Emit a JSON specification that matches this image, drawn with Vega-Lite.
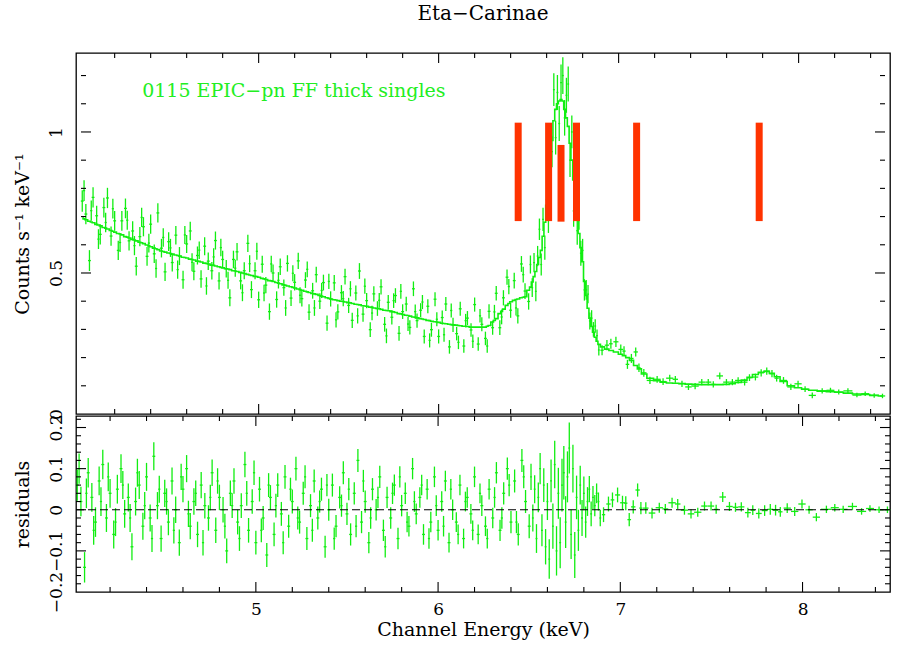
{
  "$schema": "https://vega.github.io/schema/vega-lite/v6.json",
  "padding": {"left": 12, "top": 3, "right": 5, "bottom": 0},
  "background": "white",
  "spacing": 2,
  "bounds": "flush",
  "config": {
    "view": {"stroke": "black", "strokeWidth": 1.3},
    "font": "DejaVu Serif",
    "axis": {"domain": false, "ticks": false, "grid": false, "labelFont": "DejaVu Serif", "labelFontSize": 17, "labelColor": "black", "titleFont": "DejaVu Serif", "titleFontSize": 19, "titleFontWeight": "normal", "titleColor": "black", "labelOverlap": false, "format": "~g"}
  },
  "datasets": {
    "spec": [
      {"e":4.02,"m":0.6945,"c":0.755,"ce":0.038,"r":0.06,"xe":0.008},
      {"e":4.04,"m":0.689,"c":0.709,"ce":0.036,"r":0.02,"xe":0.008},
      {"e":4.06,"m":0.6835,"c":0.544,"ce":0.037,"r":-0.14,"xe":0.008},
      {"e":4.08,"m":0.678,"c":0.768,"ce":0.036,"r":0.09,"xe":0.008},
      {"e":4.10,"m":0.6725,"c":0.703,"ce":0.035,"r":0.03,"xe":0.008},
      {"e":4.12,"m":0.667,"c":0.637,"ce":0.036,"r":-0.03,"xe":0.008},
      {"e":4.14,"m":0.6615,"c":0.732,"ce":0.035,"r":0.07,"xe":0.008},
      {"e":4.16,"m":0.656,"c":0.766,"ce":0.036,"r":0.11,"xe":0.008},
      {"e":4.18,"m":0.6505,"c":0.631,"ce":0.034,"r":-0.02,"xe":0.008},
      {"e":4.20,"m":0.645,"c":0.685,"ce":0.035,"r":0.04,"xe":0.008},
      {"e":4.22,"m":0.640,"c":0.580,"ce":0.034,"r":-0.06,"xe":0.008},
      {"e":4.24,"m":0.635,"c":0.685,"ce":0.035,"r":0.05,"xe":0.008},
      {"e":4.26,"m":0.629,"c":0.729,"ce":0.035,"r":0.10,"xe":0.008},
      {"e":4.28,"m":0.624,"c":0.614,"ce":0.034,"r":-0.01,"xe":0.008},
      {"e":4.30,"m":0.619,"c":0.649,"ce":0.034,"r":0.03,"xe":0.008},
      {"e":4.32,"m":0.614,"c":0.524,"ce":0.033,"r":-0.09,"xe":0.008},
      {"e":4.34,"m":0.609,"c":0.629,"ce":0.034,"r":0.02,"xe":0.008},
      {"e":4.36,"m":0.604,"c":0.664,"ce":0.034,"r":0.06,"xe":0.008},
      {"e":4.38,"m":0.599,"c":0.559,"ce":0.033,"r":-0.04,"xe":0.008},
      {"e":4.40,"m":0.593,"c":0.673,"ce":0.034,"r":0.08,"xe":0.008},
      {"e":4.42,"m":0.588,"c":0.568,"ce":0.033,"r":-0.02,"xe":0.008},
      {"e":4.44,"m":0.583,"c":0.713,"ce":0.034,"r":0.13,"xe":0.008},
      {"e":4.46,"m":0.578,"c":0.588,"ce":0.033,"r":0.01,"xe":0.008},
      {"e":4.48,"m":0.574,"c":0.504,"ce":0.032,"r":-0.07,"xe":0.008},
      {"e":4.50,"m":0.571,"c":0.611,"ce":0.033,"r":0.04,"xe":0.008},
      {"e":4.52,"m":0.567,"c":0.537,"ce":0.032,"r":-0.03,"xe":0.008},
      {"e":4.54,"m":0.564,"c":0.634,"ce":0.033,"r":0.07,"xe":0.008},
      {"e":4.56,"m":0.560,"c":0.560,"ce":0.032,"r":0.00,"xe":0.008},
      {"e":4.58,"m":0.556,"c":0.476,"ce":0.032,"r":-0.08,"xe":0.008},
      {"e":4.60,"m":0.553,"c":0.603,"ce":0.032,"r":0.05,"xe":0.008},
      {"e":4.62,"m":0.549,"c":0.649,"ce":0.033,"r":0.10,"xe":0.008},
      {"e":4.64,"m":0.546,"c":0.506,"ce":0.032,"r":-0.04,"xe":0.008},
      {"e":4.66,"m":0.542,"c":0.562,"ce":0.032,"r":0.02,"xe":0.008},
      {"e":4.68,"m":0.539,"c":0.479,"ce":0.031,"r":-0.06,"xe":0.008},
      {"e":4.70,"m":0.535,"c":0.595,"ce":0.032,"r":0.06,"xe":0.008},
      {"e":4.72,"m":0.532,"c":0.542,"ce":0.031,"r":0.01,"xe":0.008},
      {"e":4.74,"m":0.528,"c":0.508,"ce":0.031,"r":-0.02,"xe":0.008},
      {"e":4.76,"m":0.525,"c":0.615,"ce":0.032,"r":0.09,"xe":0.008},
      {"e":4.78,"m":0.522,"c":0.472,"ce":0.031,"r":-0.05,"xe":0.008},
      {"e":4.80,"m":0.518,"c":0.548,"ce":0.031,"r":0.03,"xe":0.008},
      {"e":4.82,"m":0.515,"c":0.515,"ce":0.031,"r":0.00,"xe":0.008},
      {"e":4.84,"m":0.512,"c":0.412,"ce":0.030,"r":-0.10,"xe":0.008},
      {"e":4.86,"m":0.508,"c":0.548,"ce":0.031,"r":0.04,"xe":0.008},
      {"e":4.88,"m":0.505,"c":0.575,"ce":0.031,"r":0.07,"xe":0.008},
      {"e":4.90,"m":0.502,"c":0.472,"ce":0.030,"r":-0.03,"xe":0.008},
      {"e":4.92,"m":0.498,"c":0.508,"ce":0.030,"r":0.01,"xe":0.008},
      {"e":4.94,"m":0.495,"c":0.605,"ce":0.031,"r":0.11,"xe":0.008},
      {"e":4.96,"m":0.491,"c":0.441,"ce":0.030,"r":-0.05,"xe":0.008},
      {"e":4.98,"m":0.488,"c":0.508,"ce":0.030,"r":0.02,"xe":0.008},
      {"e":5.00,"m":0.485,"c":0.405,"ce":0.029,"r":-0.08,"xe":0.008},
      {"e":5.02,"m":0.481,"c":0.531,"ce":0.030,"r":0.05,"xe":0.008},
      {"e":5.04,"m":0.477,"c":0.457,"ce":0.029,"r":-0.02,"xe":0.008},
      {"e":5.06,"m":0.473,"c":0.363,"ce":0.029,"r":-0.11,"xe":0.008},
      {"e":5.08,"m":0.470,"c":0.500,"ce":0.030,"r":0.03,"xe":0.008},
      {"e":5.10,"m":0.466,"c":0.406,"ce":0.029,"r":-0.06,"xe":0.008},
      {"e":5.12,"m":0.462,"c":0.522,"ce":0.029,"r":0.06,"xe":0.008},
      {"e":5.14,"m":0.458,"c":0.448,"ce":0.029,"r":-0.01,"xe":0.008},
      {"e":5.16,"m":0.454,"c":0.534,"ce":0.029,"r":0.08,"xe":0.008},
      {"e":5.18,"m":0.451,"c":0.411,"ce":0.028,"r":-0.04,"xe":0.008},
      {"e":5.20,"m":0.447,"c":0.467,"ce":0.029,"r":0.02,"xe":0.008},
      {"e":5.22,"m":0.443,"c":0.543,"ce":0.029,"r":0.10,"xe":0.008},
      {"e":5.24,"m":0.439,"c":0.409,"ce":0.028,"r":-0.03,"xe":0.008},
      {"e":5.26,"m":0.435,"c":0.475,"ce":0.028,"r":0.04,"xe":0.008},
      {"e":5.28,"m":0.431,"c":0.361,"ce":0.028,"r":-0.07,"xe":0.008},
      {"e":5.30,"m":0.427,"c":0.437,"ce":0.028,"r":0.01,"xe":0.008},
      {"e":5.32,"m":0.424,"c":0.494,"ce":0.028,"r":0.07,"xe":0.008},
      {"e":5.34,"m":0.420,"c":0.400,"ce":0.028,"r":-0.02,"xe":0.008},
      {"e":5.36,"m":0.416,"c":0.466,"ce":0.028,"r":0.05,"xe":0.008},
      {"e":5.38,"m":0.412,"c":0.322,"ce":0.027,"r":-0.09,"xe":0.008},
      {"e":5.40,"m":0.408,"c":0.408,"ce":0.027,"r":0.00,"xe":0.008},
      {"e":5.42,"m":0.405,"c":0.465,"ce":0.028,"r":0.06,"xe":0.008},
      {"e":5.44,"m":0.402,"c":0.362,"ce":0.027,"r":-0.04,"xe":0.008},
      {"e":5.46,"m":0.400,"c":0.430,"ce":0.027,"r":0.03,"xe":0.008},
      {"e":5.48,"m":0.397,"c":0.487,"ce":0.028,"r":0.09,"xe":0.008},
      {"e":5.50,"m":0.395,"c":0.385,"ce":0.027,"r":-0.01,"xe":0.008},
      {"e":5.52,"m":0.392,"c":0.332,"ce":0.027,"r":-0.06,"xe":0.008},
      {"e":5.54,"m":0.389,"c":0.429,"ce":0.027,"r":0.04,"xe":0.008},
      {"e":5.56,"m":0.387,"c":0.507,"ce":0.028,"r":0.12,"xe":0.008},
      {"e":5.58,"m":0.384,"c":0.354,"ce":0.027,"r":-0.03,"xe":0.008},
      {"e":5.60,"m":0.382,"c":0.402,"ce":0.027,"r":0.02,"xe":0.008},
      {"e":5.62,"m":0.379,"c":0.299,"ce":0.026,"r":-0.08,"xe":0.008},
      {"e":5.64,"m":0.376,"c":0.426,"ce":0.027,"r":0.05,"xe":0.008},
      {"e":5.66,"m":0.374,"c":0.374,"ce":0.026,"r":0.00,"xe":0.008},
      {"e":5.68,"m":0.371,"c":0.451,"ce":0.027,"r":0.08,"xe":0.008},
      {"e":5.70,"m":0.368,"c":0.318,"ce":0.026,"r":-0.05,"xe":0.008},
      {"e":5.72,"m":0.366,"c":0.396,"ce":0.026,"r":0.03,"xe":0.008},
      {"e":5.74,"m":0.363,"c":0.343,"ce":0.026,"r":-0.02,"xe":0.008},
      {"e":5.76,"m":0.360,"c":0.420,"ce":0.026,"r":0.06,"xe":0.008},
      {"e":5.78,"m":0.356,"c":0.286,"ce":0.026,"r":-0.07,"xe":0.008},
      {"e":5.80,"m":0.353,"c":0.363,"ce":0.026,"r":0.01,"xe":0.008},
      {"e":5.82,"m":0.350,"c":0.390,"ce":0.026,"r":0.04,"xe":0.008},
      {"e":5.84,"m":0.347,"c":0.307,"ce":0.025,"r":-0.04,"xe":0.008},
      {"e":5.86,"m":0.344,"c":0.444,"ce":0.026,"r":0.10,"xe":0.008},
      {"e":5.88,"m":0.341,"c":0.331,"ce":0.025,"r":-0.01,"xe":0.008},
      {"e":5.90,"m":0.338,"c":0.368,"ce":0.025,"r":0.03,"xe":0.008},
      {"e":5.92,"m":0.335,"c":0.275,"ce":0.025,"r":-0.06,"xe":0.008},
      {"e":5.94,"m":0.332,"c":0.382,"ce":0.025,"r":0.05,"xe":0.008},
      {"e":5.96,"m":0.329,"c":0.299,"ce":0.025,"r":-0.03,"xe":0.008},
      {"e":5.98,"m":0.327,"c":0.407,"ce":0.025,"r":0.08,"xe":0.008},
      {"e":6.00,"m":0.325,"c":0.275,"ce":0.025,"r":-0.05,"xe":0.008},
      {"e":6.02,"m":0.322,"c":0.342,"ce":0.025,"r":0.02,"xe":0.008},
      {"e":6.04,"m":0.320,"c":0.390,"ce":0.025,"r":0.07,"xe":0.008},
      {"e":6.06,"m":0.318,"c":0.238,"ce":0.024,"r":-0.08,"xe":0.008},
      {"e":6.08,"m":0.316,"c":0.316,"ce":0.025,"r":0.00,"xe":0.008},
      {"e":6.10,"m":0.315,"c":0.285,"ce":0.024,"r":-0.03,"xe":0.008},
      {"e":6.12,"m":0.313,"c":0.373,"ce":0.025,"r":0.06,"xe":0.008},
      {"e":6.14,"m":0.311,"c":0.241,"ce":0.024,"r":-0.07,"xe":0.008},
      {"e":6.16,"m":0.310,"c":0.340,"ce":0.025,"r":0.03,"xe":0.008},
      {"e":6.18,"m":0.308,"c":0.298,"ce":0.024,"r":-0.01,"xe":0.008},
      {"e":6.20,"m":0.308,"c":0.388,"ce":0.025,"r":0.08,"xe":0.008},
      {"e":6.22,"m":0.308,"c":0.248,"ce":0.024,"r":-0.06,"xe":0.008},
      {"e":6.24,"m":0.308,"c":0.318,"ce":0.025,"r":0.01,"xe":0.008},
      {"e":6.26,"m":0.308,"c":0.268,"ce":0.024,"r":-0.04,"xe":0.008},
      {"e":6.28,"m":0.314,"c":0.364,"ce":0.025,"r":0.05,"xe":0.008},
      {"e":6.30,"m":0.326,"c":0.306,"ce":0.025,"r":-0.02,"xe":0.008},
      {"e":6.32,"m":0.338,"c":0.428,"ce":0.026,"r":0.09,"xe":0.008},
      {"e":6.34,"m":0.356,"c":0.306,"ce":0.026,"r":-0.05,"xe":0.008},
      {"e":6.36,"m":0.372,"c":0.412,"ce":0.027,"r":0.04,"xe":0.008},
      {"e":6.38,"m":0.385,"c":0.485,"ce":0.027,"r":0.10,"xe":0.008},
      {"e":6.40,"m":0.398,"c":0.368,"ce":0.027,"r":-0.03,"xe":0.008},
      {"e":6.42,"m":0.403,"c":0.473,"ce":0.028,"r":0.07,"xe":0.008},
      {"e":6.44,"m":0.408,"c":0.348,"ce":0.027,"r":-0.06,"xe":0.008},
      {"e":6.46,"m":0.412,"c":0.532,"ce":0.028,"r":0.12,"xe":0.008},
      {"e":6.48,"m":0.416,"c":0.436,"ce":0.028,"r":0.02,"xe":0.008},
      {"e":6.50,"m":0.439,"c":0.399,"ce":0.029,"r":-0.04,"xe":0.008},
      {"e":4.03,"m":0.692,"c":0.792,"ce":0.037,"r":0.10,"xe":0.006},
      {"e":4.07,"m":0.681,"c":0.721,"ce":0.036,"r":0.04,"xe":0.006},
      {"e":4.11,"m":0.670,"c":0.620,"ce":0.035,"r":-0.05,"xe":0.006},
      {"e":4.15,"m":0.659,"c":0.679,"ce":0.035,"r":0.02,"xe":0.006},
      {"e":4.19,"m":0.648,"c":0.728,"ce":0.035,"r":0.08,"xe":0.006},
      {"e":4.23,"m":0.638,"c":0.608,"ce":0.034,"r":-0.03,"xe":0.006},
      {"e":4.27,"m":0.627,"c":0.687,"ce":0.034,"r":0.06,"xe":0.006},
      {"e":4.31,"m":0.617,"c":0.597,"ce":0.034,"r":-0.02,"xe":0.006},
      {"e":4.35,"m":0.607,"c":0.697,"ce":0.034,"r":0.09,"xe":0.006},
      {"e":4.39,"m":0.596,"c":0.606,"ce":0.033,"r":0.01,"xe":0.006},
      {"e":4.43,"m":0.586,"c":0.516,"ce":0.033,"r":-0.07,"xe":0.006},
      {"e":4.47,"m":0.576,"c":0.626,"ce":0.033,"r":0.05,"xe":0.006},
      {"e":4.51,"m":0.569,"c":0.589,"ce":0.032,"r":0.02,"xe":0.006},
      {"e":4.55,"m":0.562,"c":0.512,"ce":0.032,"r":-0.05,"xe":0.006},
      {"e":4.59,"m":0.555,"c":0.635,"ce":0.032,"r":0.08,"xe":0.006},
      {"e":4.63,"m":0.548,"c":0.538,"ce":0.032,"r":-0.01,"xe":0.006},
      {"e":4.67,"m":0.541,"c":0.581,"ce":0.031,"r":0.04,"xe":0.006},
      {"e":4.71,"m":0.534,"c":0.454,"ce":0.031,"r":-0.08,"xe":0.006},
      {"e":4.75,"m":0.527,"c":0.557,"ce":0.031,"r":0.03,"xe":0.006},
      {"e":4.79,"m":0.520,"c":0.590,"ce":0.031,"r":0.07,"xe":0.006},
      {"e":4.83,"m":0.514,"c":0.474,"ce":0.030,"r":-0.04,"xe":0.006},
      {"e":4.87,"m":0.507,"c":0.517,"ce":0.030,"r":0.01,"xe":0.006},
      {"e":4.91,"m":0.500,"c":0.430,"ce":0.030,"r":-0.07,"xe":0.006},
      {"e":4.95,"m":0.493,"c":0.533,"ce":0.030,"r":0.04,"xe":0.006},
      {"e":4.99,"m":0.487,"c":0.577,"ce":0.030,"r":0.09,"xe":0.006},
      {"e":5.03,"m":0.479,"c":0.429,"ce":0.029,"r":-0.05,"xe":0.006},
      {"e":5.07,"m":0.472,"c":0.532,"ce":0.029,"r":0.06,"xe":0.006},
      {"e":5.11,"m":0.464,"c":0.474,"ce":0.029,"r":0.01,"xe":0.006},
      {"e":5.15,"m":0.456,"c":0.376,"ce":0.028,"r":-0.08,"xe":0.006},
      {"e":5.19,"m":0.449,"c":0.499,"ce":0.028,"r":0.05,"xe":0.006},
      {"e":5.23,"m":0.441,"c":0.421,"ce":0.028,"r":-0.02,"xe":0.006},
      {"e":5.27,"m":0.433,"c":0.513,"ce":0.028,"r":0.08,"xe":0.006},
      {"e":5.31,"m":0.426,"c":0.376,"ce":0.028,"r":-0.05,"xe":0.006},
      {"e":5.35,"m":0.418,"c":0.438,"ce":0.027,"r":0.02,"xe":0.006},
      {"e":5.39,"m":0.410,"c":0.470,"ce":0.027,"r":0.06,"xe":0.006},
      {"e":5.43,"m":0.404,"c":0.334,"ce":0.027,"r":-0.07,"xe":0.006},
      {"e":5.47,"m":0.399,"c":0.409,"ce":0.027,"r":0.01,"xe":0.006},
      {"e":5.51,"m":0.394,"c":0.444,"ce":0.027,"r":0.05,"xe":0.006},
      {"e":5.55,"m":0.388,"c":0.348,"ce":0.027,"r":-0.04,"xe":0.006},
      {"e":5.59,"m":0.383,"c":0.453,"ce":0.027,"r":0.07,"xe":0.006},
      {"e":5.63,"m":0.378,"c":0.358,"ce":0.026,"r":-0.02,"xe":0.006},
      {"e":5.67,"m":0.373,"c":0.403,"ce":0.026,"r":0.03,"xe":0.006},
      {"e":5.71,"m":0.367,"c":0.277,"ce":0.026,"r":-0.09,"xe":0.006},
      {"e":5.75,"m":0.362,"c":0.402,"ce":0.026,"r":0.04,"xe":0.006},
      {"e":5.79,"m":0.355,"c":0.435,"ce":0.026,"r":0.08,"xe":0.006},
      {"e":5.83,"m":0.349,"c":0.319,"ce":0.025,"r":-0.03,"xe":0.006},
      {"e":5.87,"m":0.343,"c":0.363,"ce":0.025,"r":0.02,"xe":0.006},
      {"e":5.91,"m":0.337,"c":0.397,"ce":0.025,"r":0.06,"xe":0.006},
      {"e":5.95,"m":0.331,"c":0.261,"ce":0.025,"r":-0.07,"xe":0.006},
      {"e":5.99,"m":0.326,"c":0.336,"ce":0.025,"r":0.01,"xe":0.006},
      {"e":6.03,"m":0.321,"c":0.281,"ce":0.025,"r":-0.04,"xe":0.006},
      {"e":6.07,"m":0.317,"c":0.367,"ce":0.025,"r":0.05,"xe":0.006},
      {"e":6.11,"m":0.314,"c":0.254,"ce":0.024,"r":-0.06,"xe":0.006},
      {"e":6.15,"m":0.311,"c":0.331,"ce":0.024,"r":0.02,"xe":0.006},
      {"e":6.19,"m":0.308,"c":0.258,"ce":0.024,"r":-0.05,"xe":0.006},
      {"e":6.23,"m":0.308,"c":0.348,"ce":0.024,"r":0.04,"xe":0.006},
      {"e":6.27,"m":0.311,"c":0.241,"ce":0.024,"r":-0.07,"xe":0.006},
      {"e":6.31,"m":0.332,"c":0.362,"ce":0.025,"r":0.03,"xe":0.006},
      {"e":6.35,"m":0.364,"c":0.344,"ce":0.026,"r":-0.02,"xe":0.006},
      {"e":6.39,"m":0.392,"c":0.452,"ce":0.027,"r":0.06,"xe":0.006},
      {"e":6.43,"m":0.406,"c":0.376,"ce":0.027,"r":-0.03,"xe":0.006},
      {"e":6.47,"m":0.414,"c":0.494,"ce":0.028,"r":0.08,"xe":0.006},
      {"e":6.51,"m":0.450,"c":0.530,"ce":0.032,"r":0.08,"xe":0.005},
      {"e":6.52,"m":0.468,"c":0.448,"ce":0.033,"r":-0.02,"xe":0.005},
      {"e":6.53,"m":0.487,"c":0.537,"ce":0.034,"r":0.05,"xe":0.005},
      {"e":6.54,"m":0.505,"c":0.435,"ce":0.035,"r":-0.07,"xe":0.005},
      {"e":6.55,"m":0.530,"c":0.560,"ce":0.036,"r":0.03,"xe":0.005},
      {"e":6.56,"m":0.555,"c":0.655,"ce":0.038,"r":0.10,"xe":0.005},
      {"e":6.57,"m":0.580,"c":0.530,"ce":0.039,"r":-0.05,"xe":0.005},
      {"e":6.58,"m":0.630,"c":0.690,"ce":0.041,"r":0.06,"xe":0.005},
      {"e":6.59,"m":0.680,"c":0.590,"ce":0.043,"r":-0.09,"xe":0.005},
      {"e":6.60,"m":0.740,"c":0.760,"ce":0.045,"r":0.02,"xe":0.005},
      {"e":6.61,"m":0.810,"c":0.690,"ce":0.048,"r":-0.12,"xe":0.005},
      {"e":6.62,"m":0.890,"c":0.960,"ce":0.052,"r":0.07,"xe":0.005},
      {"e":6.63,"m":0.970,"c":0.930,"ce":0.055,"r":-0.04,"xe":0.005},
      {"e":6.64,"m":1.040,"c":1.150,"ce":0.058,"r":0.11,"xe":0.005},
      {"e":6.65,"m":1.080,"c":0.980,"ce":0.060,"r":-0.10,"xe":0.005},
      {"e":6.66,"m":1.100,"c":1.140,"ce":0.062,"r":0.04,"xe":0.005},
      {"e":6.67,"m":1.110,"c":1.030,"ce":0.062,"r":-0.08,"xe":0.005},
      {"e":6.68,"m":1.115,"c":1.175,"ce":0.064,"r":0.06,"xe":0.005},
      {"e":6.69,"m":1.110,"c":1.200,"ce":0.065,"r":0.09,"xe":0.005},
      {"e":6.70,"m":1.080,"c":1.050,"ce":0.063,"r":-0.03,"xe":0.005},
      {"e":6.71,"m":1.050,"c":1.130,"ce":0.062,"r":0.08,"xe":0.005},
      {"e":6.72,"m":1.020,"c":1.170,"ce":0.062,"r":0.15,"xe":0.005},
      {"e":6.73,"m":0.960,"c":0.900,"ce":0.060,"r":-0.06,"xe":0.005},
      {"e":6.74,"m":0.900,"c":1.000,"ce":0.058,"r":0.10,"xe":0.005},
      {"e":6.75,"m":0.830,"c":0.720,"ce":0.056,"r":-0.11,"xe":0.005},
      {"e":6.76,"m":0.760,"c":0.790,"ce":0.053,"r":0.03,"xe":0.005},
      {"e":6.77,"m":0.700,"c":0.650,"ce":0.050,"r":-0.05,"xe":0.005},
      {"e":6.78,"m":0.640,"c":0.700,"ce":0.047,"r":0.06,"xe":0.005},
      {"e":6.79,"m":0.590,"c":0.570,"ce":0.044,"r":-0.02,"xe":0.005},
      {"e":6.80,"m":0.540,"c":0.580,"ce":0.041,"r":0.04,"xe":0.005},
      {"e":6.81,"m":0.470,"c":0.440,"ce":0.038,"r":-0.03,"xe":0.005},
      {"e":6.82,"m":0.420,"c":0.440,"ce":0.035,"r":0.02,"xe":0.005},
      {"e":6.83,"m":0.375,"c":0.425,"ce":0.032,"r":0.05,"xe":0.005},
      {"e":6.84,"m":0.340,"c":0.330,"ce":0.030,"r":-0.01,"xe":0.005},
      {"e":6.85,"m":0.310,"c":0.340,"ce":0.028,"r":0.03,"xe":0.005},
      {"e":6.86,"m":0.290,"c":0.300,"ce":0.026,"r":0.01,"xe":0.005},
      {"e":6.87,"m":0.272,"c":0.312,"ce":0.024,"r":0.04,"xe":0.005},
      {"e":6.88,"m":0.258,"c":0.278,"ce":0.022,"r":0.02,"xe":0.005},
      {"e":6.89,"m":0.247,"c":0.227,"ce":0.020,"r":-0.02,"xe":0.005},
      {"e":6.908,"m":0.238,"c":0.226,"ce":0.018,"r":-0.012,"xe":0.009},
      {"e":6.935,"m":0.230,"c":0.244,"ce":0.018,"r":0.014,"xe":0.012},
      {"e":6.957,"m":0.225,"c":0.249,"ce":0.018,"r":0.024,"xe":0.010},
      {"e":6.985,"m":0.220,"c":0.256,"ce":0.018,"r":0.036,"xe":0.014},
      {"e":7.012,"m":0.212,"c":0.229,"ce":0.017,"r":0.017,"xe":0.013},
      {"e":7.030,"m":0.207,"c":0.223,"ce":0.017,"r":0.016,"xe":0.009},
      {"e":7.049,"m":0.200,"c":0.176,"ce":0.016,"r":-0.024,"xe":0.010},
      {"e":7.071,"m":0.190,"c":0.197,"ce":0.016,"r":0.007,"xe":0.012},
      {"e":7.095,"m":0.172,"c":0.220,"ce":0.016,"r":0.048,"xe":0.012},
      {"e":7.113,"m":0.160,"c":0.164,"ce":0.015,"r":0.004,"xe":0.009},
      {"e":7.140,"m":0.142,"c":0.146,"ce":0.014,"r":0.004,"xe":0.015},
      {"e":7.174,"m":0.127,"c":0.119,"ce":0.013,"r":-0.008,"xe":0.018},
      {"e":7.214,"m":0.118,"c":0.123,"ce":0.012,"r":0.005,"xe":0.020},
      {"e":7.247,"m":0.113,"c":0.115,"ce":0.012,"r":0.002,"xe":0.016},
      {"e":7.284,"m":0.110,"c":0.127,"ce":0.012,"r":0.017,"xe":0.020},
      {"e":7.315,"m":0.109,"c":0.123,"ce":0.012,"r":0.014,"xe":0.015},
      {"e":7.352,"m":0.108,"c":0.107,"ce":0.011,"r":-0.001,"xe":0.020},
      {"e":7.388,"m":0.106,"c":0.096,"ce":0.011,"r":-0.010,"xe":0.018},
      {"e":7.425,"m":0.105,"c":0.099,"ce":0.011,"r":-0.006,"xe":0.020},
      {"e":7.462,"m":0.104,"c":0.113,"ce":0.011,"r":0.009,"xe":0.018},
      {"e":7.498,"m":0.104,"c":0.113,"ce":0.011,"r":0.009,"xe":0.017},
      {"e":7.526,"m":0.104,"c":0.105,"ce":0.011,"r":0.001,"xe":0.012},
      {"e":7.562,"m":0.104,"c":0.135,"ce":0.012,"r":0.031,"xe":0.018},
      {"e":7.599,"m":0.105,"c":0.113,"ce":0.011,"r":0.008,"xe":0.018},
      {"e":7.632,"m":0.107,"c":0.113,"ce":0.011,"r":0.006,"xe":0.015},
      {"e":7.664,"m":0.112,"c":0.119,"ce":0.011,"r":0.007,"xe":0.017},
      {"e":7.700,"m":0.120,"c":0.113,"ce":0.012,"r":-0.007,"xe":0.016},
      {"e":7.727,"m":0.130,"c":0.129,"ce":0.012,"r":-0.001,"xe":0.012},
      {"e":7.760,"m":0.140,"c":0.131,"ce":0.012,"r":-0.009,"xe":0.016},
      {"e":7.792,"m":0.148,"c":0.146,"ce":0.013,"r":-0.002,"xe":0.016},
      {"e":7.823,"m":0.151,"c":0.152,"ce":0.013,"r":0.001,"xe":0.016},
      {"e":7.852,"m":0.144,"c":0.143,"ce":0.013,"r":-0.001,"xe":0.014},
      {"e":7.878,"m":0.132,"c":0.127,"ce":0.012,"r":-0.005,"xe":0.012},
      {"e":7.916,"m":0.115,"c":0.119,"ce":0.012,"r":0.004,"xe":0.020},
      {"e":7.957,"m":0.100,"c":0.096,"ce":0.011,"r":-0.004,"xe":0.020},
      {"e":7.997,"m":0.093,"c":0.107,"ce":0.011,"r":0.014,"xe":0.020},
      {"e":8.036,"m":0.088,"c":0.088,"ce":0.010,"r":0.000,"xe":0.020},
      {"e":8.076,"m":0.084,"c":0.066,"ce":0.010,"r":-0.018,"xe":0.020},
      {"e":8.131,"m":0.081,"c":0.082,"ce":0.009,"r":0.001,"xe":0.030},
      {"e":8.177,"m":0.079,"c":0.084,"ce":0.009,"r":0.005,"xe":0.022},
      {"e":8.223,"m":0.077,"c":0.078,"ce":0.009,"r":0.001,"xe":0.024},
      {"e":8.274,"m":0.074,"c":0.082,"ce":0.009,"r":0.008,"xe":0.025},
      {"e":8.324,"m":0.071,"c":0.067,"ce":0.008,"r":-0.004,"xe":0.025},
      {"e":8.370,"m":0.069,"c":0.072,"ce":0.008,"r":0.003,"xe":0.022},
      {"e":8.420,"m":0.066,"c":0.066,"ce":0.008,"r":0.000,"xe":0.025},
      {"e":8.466,"m":0.064,"c":0.064,"ce":0.008,"r":0.000,"xe":0.015}
    ],
    "lines": [
      {"e":6.442,"top":1.033,"bot":0.684},
      {"e":6.611,"top":1.033,"bot":0.684},
      {"e":6.680,"top":0.954,"bot":0.682},
      {"e":6.766,"top":1.033,"bot":0.684},
      {"e":7.100,"top":1.033,"bot":0.684},
      {"e":7.781,"top":1.033,"bot":0.684}
    ],
    "note": [
      {"e":4.353,"c":1.144,"label":"0115 EPIC−pn FF thick singles"}
    ],
    "zero": [
      {"e":4.013,"e2":8.48,"r":0}
    ],
    "xmaj": [{"v":5},{"v":6},{"v":7},{"v":8}],
    "xmin": [{"v":4.2},{"v":4.4},{"v":4.6},{"v":4.8},{"v":5.2},{"v":5.4},{"v":5.6},{"v":5.8},{"v":6.2},{"v":6.4},{"v":6.6},{"v":6.8},{"v":7.2},{"v":7.4},{"v":7.6},{"v":7.8},{"v":8.2},{"v":8.4}],
    "ymajA": [{"v":0.5},{"v":1}],
    "yminA": [{"v":0.1},{"v":0.2},{"v":0.3},{"v":0.4},{"v":0.6},{"v":0.7},{"v":0.8},{"v":0.9},{"v":1.1},{"v":1.2}],
    "ymajB": [{"v":-0.1},{"v":0},{"v":0.1},{"v":0.2}],
    "yminB": [{"v":-0.18},{"v":-0.16},{"v":-0.14},{"v":-0.12},{"v":-0.08},{"v":-0.06},{"v":-0.04},{"v":-0.02},{"v":0.02},{"v":0.04},{"v":0.06},{"v":0.08},{"v":0.12},{"v":0.14},{"v":0.16},{"v":0.18},{"v":0.22}]
  },
  "vconcat": [
    {
      "width": 814,
      "height": 361,
      "title": {"text": "Eta−Carinae", "font": "DejaVu Serif", "fontSize": 20, "fontWeight": "normal", "anchor": "middle", "frame": "group", "offset": 28, "color": "black"},
      "resolve": {"axis": {"x": "independent", "y": "independent"}},
      "layer": [
        {
          "data": {"name": "spec"},
          "mark": {"type": "line", "interpolate": "step", "color": "#11ee11", "strokeWidth": 1.6},
          "encoding": {
            "x": {"field": "e", "type": "quantitative", "scale": {"domain": [4.013, 8.48], "nice": false, "zero": false}, "axis": null},
            "y": {"field": "m", "type": "quantitative", "scale": {"domain": [0, 1.28], "nice": false, "zero": false},
              "axis": {"orient": "left", "title": "Counts s⁻¹ keV⁻¹", "titlePadding": 15, "values": [0, 0.5, 1],
                "labelAngle": -90, "labelAlign": "center", "labelBaseline": "middle", "labelPadding": 20}}
          }
        },
        {
          "data": {"name": "spec"},
          "mark": {"type": "errorbar", "rule": {"color": "#11ee11", "strokeWidth": 1.3}},
          "encoding": {
            "x": {"field": "e", "type": "quantitative", "axis": null},
            "y": {"field": "c", "type": "quantitative", "axis": null},
            "yError": {"field": "ce"}
          }
        },
        {
          "data": {"name": "spec"},
          "mark": {"type": "errorbar", "rule": {"color": "#11ee11", "strokeWidth": 1.3}},
          "encoding": {
            "x": {"field": "e", "type": "quantitative", "axis": null},
            "xError": {"field": "xe"},
            "y": {"field": "c", "type": "quantitative", "axis": null}
          }
        },
        {
          "data": {"name": "lines"},
          "mark": {"type": "bar", "color": "#ff3300", "size": 7},
          "encoding": {
            "x": {"field": "e", "type": "quantitative", "axis": null},
            "y": {"field": "top", "type": "quantitative", "axis": null},
            "y2": {"field": "bot"}
          }
        },
        {
          "data": {"name": "note"},
          "mark": {"type": "text", "align": "left", "baseline": "middle", "color": "#22ee22", "font": "DejaVu Serif", "fontSize": 19},
          "encoding": {
            "x": {"field": "e", "type": "quantitative", "axis": null},
            "y": {"field": "c", "type": "quantitative", "axis": null},
            "text": {"field": "label"}
          }
        },
        {"data": {"name": "xmaj"}, "mark": {"type": "rule", "color": "black", "strokeWidth": 1.1, "y2Offset": -10},
         "encoding": {"x": {"field": "v", "type": "quantitative", "axis": null}, "y": {"datum": 0, "axis": null}, "y2": {"datum": 0}}},
        {"data": {"name": "xmaj"}, "mark": {"type": "rule", "color": "black", "strokeWidth": 1.1, "y2Offset": 10},
         "encoding": {"x": {"field": "v", "type": "quantitative", "axis": null}, "y": {"datum": 1.28, "axis": null}, "y2": {"datum": 1.28}}},
        {"data": {"name": "xmin"}, "mark": {"type": "rule", "color": "black", "strokeWidth": 1.1, "y2Offset": -5},
         "encoding": {"x": {"field": "v", "type": "quantitative", "axis": null}, "y": {"datum": 0, "axis": null}, "y2": {"datum": 0}}},
        {"data": {"name": "xmin"}, "mark": {"type": "rule", "color": "black", "strokeWidth": 1.1, "y2Offset": 5},
         "encoding": {"x": {"field": "v", "type": "quantitative", "axis": null}, "y": {"datum": 1.28, "axis": null}, "y2": {"datum": 1.28}}},
        {"data": {"name": "ymajA"}, "mark": {"type": "rule", "color": "black", "strokeWidth": 1.1, "x2Offset": 10},
         "encoding": {"y": {"field": "v", "type": "quantitative", "axis": null}, "x": {"datum": 4.013, "axis": null}, "x2": {"datum": 4.013}}},
        {"data": {"name": "ymajA"}, "mark": {"type": "rule", "color": "black", "strokeWidth": 1.1, "x2Offset": -10},
         "encoding": {"y": {"field": "v", "type": "quantitative", "axis": null}, "x": {"datum": 8.48, "axis": null}, "x2": {"datum": 8.48}}},
        {"data": {"name": "yminA"}, "mark": {"type": "rule", "color": "black", "strokeWidth": 1.1, "x2Offset": 5},
         "encoding": {"y": {"field": "v", "type": "quantitative", "axis": null}, "x": {"datum": 4.013, "axis": null}, "x2": {"datum": 4.013}}},
        {"data": {"name": "yminA"}, "mark": {"type": "rule", "color": "black", "strokeWidth": 1.1, "x2Offset": -5},
         "encoding": {"y": {"field": "v", "type": "quantitative", "axis": null}, "x": {"datum": 8.48, "axis": null}, "x2": {"datum": 8.48}}}
      ]
    },
    {
      "width": 814,
      "height": 176,
      "resolve": {"axis": {"x": "independent", "y": "independent"}},
      "layer": [
        {
          "data": {"name": "spec"},
          "mark": {"type": "errorbar", "rule": {"color": "#11ee11", "strokeWidth": 1.3}},
          "encoding": {
            "x": {"field": "e", "type": "quantitative", "scale": {"domain": [4.013, 8.48], "nice": false, "zero": false},
              "axis": {"orient": "bottom", "title": "Channel Energy (keV)", "titlePadding": 3, "values": [5, 6, 7, 8],
                "labelBaseline": "middle", "labelPadding": 17, "labelFlush": false}},
            "y": {"field": "r", "type": "quantitative", "scale": {"domain": [-0.2, 0.228], "nice": false, "zero": false},
              "axis": {"orient": "left", "title": "residuals", "titlePadding": 15, "values": [-0.2, -0.1, 0, 0.1, 0.2],
                "labelAngle": -90, "labelAlign": "center", "labelBaseline": "middle", "labelPadding": 20}},
            "yError": {"field": "ce"}
          }
        },
        {
          "data": {"name": "spec"},
          "mark": {"type": "errorbar", "rule": {"color": "#11ee11", "strokeWidth": 1.3}},
          "encoding": {
            "x": {"field": "e", "type": "quantitative", "axis": null},
            "xError": {"field": "xe"},
            "y": {"field": "r", "type": "quantitative", "axis": null}
          }
        },
        {
          "data": {"name": "zero"},
          "mark": {"type": "rule", "color": "black", "strokeDash": [8, 4], "strokeWidth": 1.2},
          "encoding": {
            "x": {"field": "e", "type": "quantitative", "axis": null},
            "x2": {"field": "e2"},
            "y": {"field": "r", "type": "quantitative", "axis": null}
          }
        },
        {"data": {"name": "xmaj"}, "mark": {"type": "rule", "color": "black", "strokeWidth": 1.1, "y2Offset": -10},
         "encoding": {"x": {"field": "v", "type": "quantitative", "axis": null}, "y": {"datum": -0.2, "axis": null}, "y2": {"datum": -0.2}}},
        {"data": {"name": "xmaj"}, "mark": {"type": "rule", "color": "black", "strokeWidth": 1.1, "y2Offset": 10},
         "encoding": {"x": {"field": "v", "type": "quantitative", "axis": null}, "y": {"datum": 0.228, "axis": null}, "y2": {"datum": 0.228}}},
        {"data": {"name": "xmin"}, "mark": {"type": "rule", "color": "black", "strokeWidth": 1.1, "y2Offset": -5},
         "encoding": {"x": {"field": "v", "type": "quantitative", "axis": null}, "y": {"datum": -0.2, "axis": null}, "y2": {"datum": -0.2}}},
        {"data": {"name": "xmin"}, "mark": {"type": "rule", "color": "black", "strokeWidth": 1.1, "y2Offset": 5},
         "encoding": {"x": {"field": "v", "type": "quantitative", "axis": null}, "y": {"datum": 0.228, "axis": null}, "y2": {"datum": 0.228}}},
        {"data": {"name": "ymajB"}, "mark": {"type": "rule", "color": "black", "strokeWidth": 1.1, "x2Offset": 10},
         "encoding": {"y": {"field": "v", "type": "quantitative", "axis": null}, "x": {"datum": 4.013, "axis": null}, "x2": {"datum": 4.013}}},
        {"data": {"name": "ymajB"}, "mark": {"type": "rule", "color": "black", "strokeWidth": 1.1, "x2Offset": -10},
         "encoding": {"y": {"field": "v", "type": "quantitative", "axis": null}, "x": {"datum": 8.48, "axis": null}, "x2": {"datum": 8.48}}},
        {"data": {"name": "yminB"}, "mark": {"type": "rule", "color": "black", "strokeWidth": 1.1, "x2Offset": 5},
         "encoding": {"y": {"field": "v", "type": "quantitative", "axis": null}, "x": {"datum": 4.013, "axis": null}, "x2": {"datum": 4.013}}},
        {"data": {"name": "yminB"}, "mark": {"type": "rule", "color": "black", "strokeWidth": 1.1, "x2Offset": -5},
         "encoding": {"y": {"field": "v", "type": "quantitative", "axis": null}, "x": {"datum": 8.48, "axis": null}, "x2": {"datum": 8.48}}}
      ]
    }
  ]
}
